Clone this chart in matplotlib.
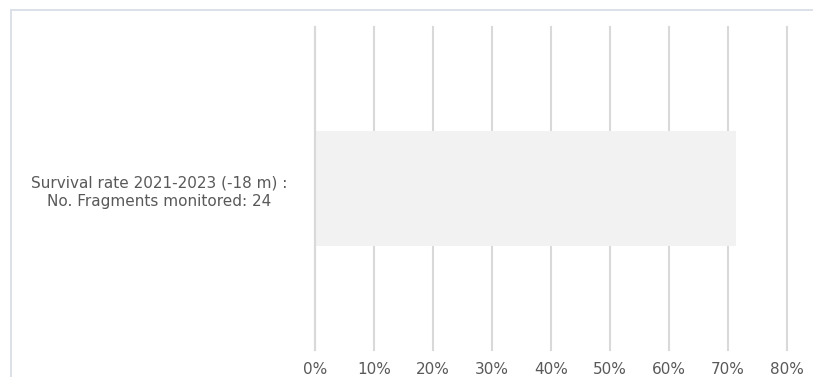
import matplotlib
matplotlib.use("Agg")
import matplotlib.pyplot as plt
from matplotlib.patches import Rectangle
from matplotlib.ticker import PercentFormatter

categories = ["Survival rate 2021-2023 (-18 m) :\nNo. Fragments monitored: 24"]
survival = [0.714]
x_ticks = [0.0, 0.1, 0.2, 0.3, 0.4, 0.5, 0.6, 0.7, 0.8]

plt.rcParams["font.family"] = ["DejaVu Sans"]
text_color = "#595959"
grid_color = "#d9d9d9"

fig = plt.figure(figsize=(8.13, 3.77), dpi=100)
ax = fig.add_axes([315 / 813, 1 - 350 / 377, 472 / 813, 323 / 377])

ax.barh(range(len(categories)), survival, height=0.356, color="#f2f2f2", zorder=2)

ax.set_xlim(0, 0.8)
ax.set_ylim(-0.5, 0.5)
ax.set_xticks(x_ticks)
ax.xaxis.set_major_formatter(PercentFormatter(1.0, decimals=0))
ax.set_yticks(range(len(categories)))
ax.set_yticklabels(categories, ha="center", multialignment="center",
                   linespacing=1.35)
ax.tick_params(axis="y", length=0, pad=156 * 0.72, labelsize=11, labelcolor=text_color)
ax.tick_params(axis="x", length=0, pad=9, labelsize=11, labelcolor=text_color)

ax.grid(axis="x", color=grid_color, linewidth=1.5, zorder=1)
for gl in ax.get_xgridlines():
    gl.set_clip_on(False)
ax.set_axisbelow(True)
# category axis line at 0 sits above the bar
ax.axvline(0, color=grid_color, linewidth=1.5, zorder=3, clip_on=False)
for s in ax.spines.values():
    s.set_visible(False)

# outer chart frame
fig.patches.append(Rectangle((11 / 813, -0.1), 1.2, 1 - 10 / 377 + 0.1,
                             transform=fig.transFigure, fill=False,
                             edgecolor="#d6dce5", linewidth=1.2))

fig.savefig("out.png", dpi=100)
